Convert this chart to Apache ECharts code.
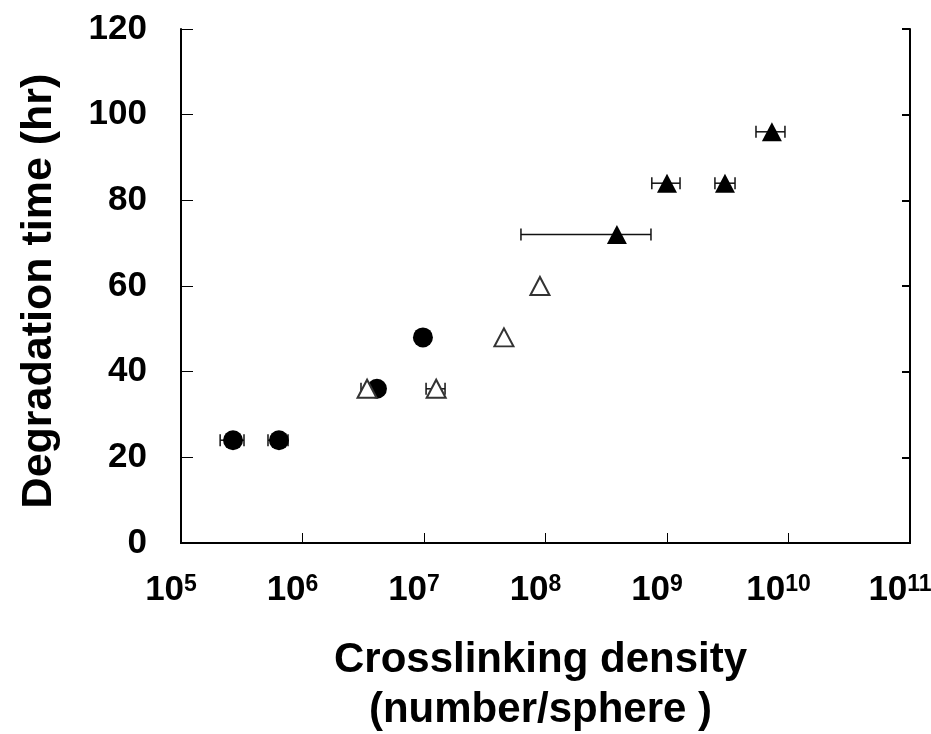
<!DOCTYPE html>
<html>
<head>
<meta charset="utf-8">
<script src="https://cdn.jsdelivr.net/npm/echarts@6/dist/echarts.min.js"></script>
<style>html,body{margin:0;padding:0;background:#fff;}#c{width:931px;height:734px;}</style>
</head>
<body>
<div id="c"></div>
<script>
// Filled circles
const circleX = [2.68e5, 6.4e5, 4.1e6, 9.8e6];
const circleY = [24, 24, 36, 48];
// Open triangles
const openTriX = [3.4e6, 1.26e7, 4.55e7, 9.0e7];
const openTriY = [36, 36, 48, 60];
// Filled triangles
const filledTriX = [3.87e8, 1.0e9, 3.0e9, 7.3e9];
const filledTriY = [72, 84, 84, 96];
// Horizontal error bars: x, y, low, high
const errX    = [2.68e5, 6.4e5, 3.4e6, 1.26e7, 3.87e8, 1.0e9, 3.0e9, 7.3e9];
const errY    = [24, 24, 36, 36, 72, 84, 84, 96];
const errLow  = [2.1e5, 5.2e5, 3.03e6, 1.04e7, 6.28e7, 7.5e8, 2.48e9, 5.4e9];
const errHigh = [3.3e5, 7.6e5, 3.8e6, 1.49e7, 7.38e8, 1.28e9, 3.63e9, 9.35e9];
const yTicks = [0, 20, 40, 60, 80, 100, 120];

const FONT = '"Liberation Sans", Arial, sans-serif';
const zip = (a, b) => a.map((v, i) => [v, b[i]]);

const chart = echarts.init(document.getElementById('c'));
chart.setOption({
  backgroundColor: '#fff',
  animation: false,
  grid: { left: 181, right: 21, top: 29, bottom: 191, containLabel: false, outerBoundsMode: 'none' },
  xAxis: [{
    type: 'log', logBase: 10, min: 1e5, max: 1e11, splitNumber: 6,
    name: 'Crosslinking density\n(number/sphere )',
    nameLocation: 'middle', nameGap: 92,
    nameTextStyle: { fontFamily: FONT, fontWeight: 'bold', fontSize: 42, color: '#000', lineHeight: 50, padding: [0, 10, 0, 0] },
    axisLine: { show: true, lineStyle: { color: '#000', width: 2 } },
    axisTick: { show: true, inside: true, length: 10, lineStyle: { color: '#000', width: 1 } },
    splitLine: { show: false },
    axisLabel: {
      margin: 30,
      formatter: v => '{b|10}{s|' + Math.round(Math.log10(v)) + '}{g|}',
      rich: {
        b: { fontFamily: FONT, fontWeight: 'bold', fontSize: 35, color: '#000', lineHeight: 36, verticalAlign: 'top' },
        s: { fontFamily: FONT, fontWeight: 'bold', fontSize: 23, color: '#000', lineHeight: 36, verticalAlign: 'top', padding: [0, 0, 10, 0] },
        g: { width: 20 }
      }
    }
  }, {
    type: 'log', logBase: 10, min: 1e5, max: 1e11, position: 'top',
    axisLine: { show: true, lineStyle: { color: '#000', width: 2 } },
    axisTick: { show: false }, axisLabel: { show: false }, splitLine: { show: false }
  }],
  yAxis: [{
    type: 'value', min: 0, max: 120, interval: 20,
    name: 'Degradation time (hr)',
    nameLocation: 'middle', nameGap: 120,
    nameTextStyle: { fontFamily: FONT, fontWeight: 'bold', fontSize: 43, color: '#000', padding: [0, 10, 0, 0] },
    axisLine: { show: true, lineStyle: { color: '#000', width: 2 } },
    axisTick: { show: true, inside: true, length: 12, lineStyle: { color: '#000', width: 1 } },
    splitLine: { show: false },
    axisLabel: {
      margin: 34, fontFamily: FONT, fontWeight: 'bold', fontSize: 35, color: '#000',
      formatter: v => yTicks.includes(v) ? String(v) : ''
    }
  }, {
    type: 'value', min: 0, max: 120, interval: 20, position: 'right',
    axisLine: { show: true, lineStyle: { color: '#000', width: 2 } },
    axisTick: { show: true, inside: true, length: 8, lineStyle: { color: '#000', width: 2 } },
    axisLabel: { show: false }, splitLine: { show: false }
  }],
  series: [{
    type: 'custom', z: 1,
    renderItem: (params, api) => {
      const y = api.value(1);
      const p1 = api.coord([api.value(2), y]);
      const p2 = api.coord([api.value(3), y]);
      const h = 6;
      const st = { stroke: '#111', lineWidth: 1.5 };
      return { type: 'group', children: [
        { type: 'line', shape: { x1: p1[0], y1: p1[1], x2: p2[0], y2: p2[1] }, style: st },
        { type: 'line', shape: { x1: p1[0], y1: p1[1] - h, x2: p1[0], y2: p1[1] + h }, style: st },
        { type: 'line', shape: { x1: p2[0], y1: p2[1] - h, x2: p2[0], y2: p2[1] + h }, style: st }
      ]};
    },
    encode: { x: [0, 2, 3], y: 1 },
    data: errX.map((x, i) => [x, errY[i], errLow[i], errHigh[i]])
  }, {
    type: 'scatter', z: 2, symbol: 'circle', symbolSize: 20,
    itemStyle: { color: '#000', opacity: 1 },
    data: zip(circleX, circleY)
  }, {
    type: 'scatter', z: 3, symbol: 'triangle', symbolSize: [19, 18],
    itemStyle: { color: '#fff', borderColor: '#333', borderWidth: 2, opacity: 1 },
    data: zip(openTriX, openTriY)
  }, {
    type: 'scatter', z: 4, symbol: 'triangle', symbolSize: [20, 19],
    itemStyle: { color: '#000', opacity: 1 },
    data: zip(filledTriX, filledTriY)
  }]
});
</script>
</body>
</html>
